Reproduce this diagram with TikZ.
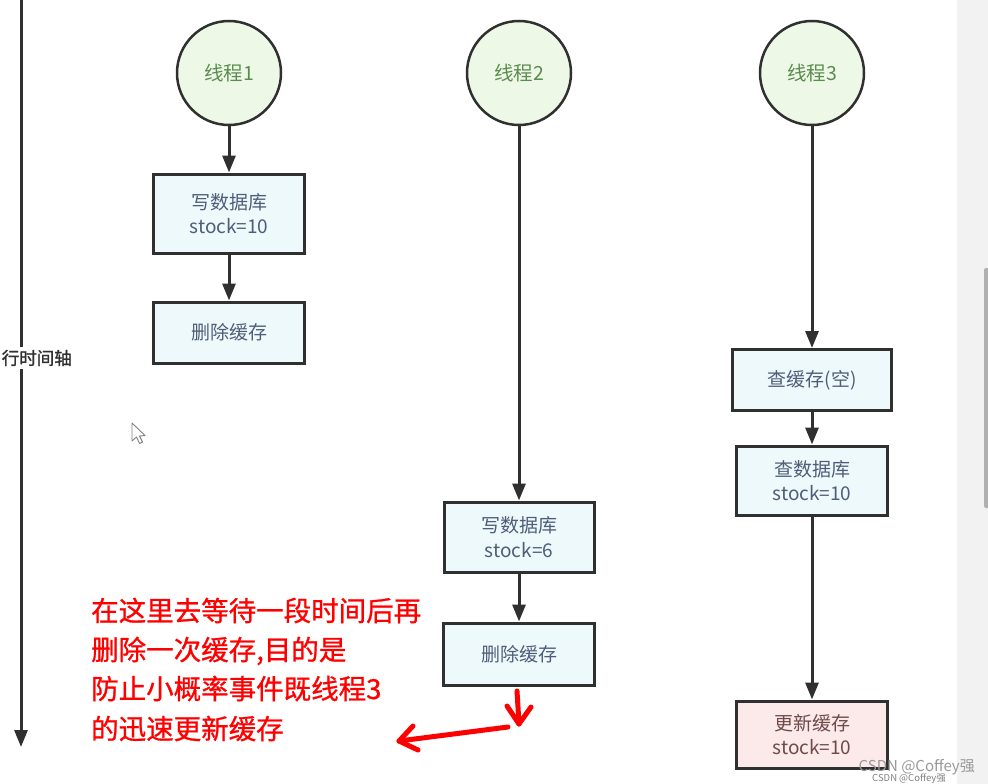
\documentclass[tikz,border=0pt]{standalone}
\usepackage{fontspec}
\setmainfont{Noto Sans CJK SC}
\newfontfamily\cjkb[FakeBold=1.4]{Noto Sans CJK SC}
\newfontfamily\cjkm[FakeBold=0.9]{Noto Sans CJK SC}
\usetikzlibrary{arrows.meta}
\definecolor{ln}{HTML}{303030}
\definecolor{circfill}{HTML}{EDF9E6}
\definecolor{circtxt}{HTML}{5B8C4F}
\definecolor{boxfill}{HTML}{EEF9FC}
\definecolor{boxtxt}{HTML}{4F5D78}
\definecolor{pinkfill}{HTML}{FCEAEA}
\definecolor{pinktxt}{HTML}{6E4A4A}
\definecolor{strip}{HTML}{F2F2F2}
\definecolor{thumb}{HTML}{B0B0B0}
\definecolor{redc}{HTML}{FF0000}
\begin{document}
\begin{tikzpicture}[x=1pt,y=-1pt,
  thread/.style={circle,draw=ln,line width=2.5pt,fill=circfill,minimum size=104pt,inner sep=0pt,
    text=circtxt,font=\fontsize{19.5}{22}\selectfont},
  stepbox/.style={rectangle,draw=ln,line width=3pt,fill=boxfill,inner sep=0pt,
    text=boxtxt,align=center,font=\fontsize{19}{24.5}\selectfont},
  conn/.style={draw=ln,line width=3pt,-{Triangle[width=13pt,length=17pt]}},
  redtxt/.style={anchor=base west,inner sep=0pt,text=redc,font=\cjkm\fontsize{27.5}{30}\selectfont},
  redarrow/.style={draw=redc,line width=5pt,line cap=round,line join=round},
]
\useasboundingbox (0,0) rectangle (988,784);
\clip (0,0) rectangle (988,784);
\fill[white] (0,0) rectangle (957,784);
\fill[strip] (957,0) rectangle (988,784);
\fill[thumb,rounded corners=2pt] (984,268) rectangle (990,508);

% time axis
\coordinate (ax0) at (21,-5);
\coordinate (ax1) at (21,747);
\draw[conn] (ax0) -- (ax1);
\node[anchor=east,fill=white,inner xsep=1pt,inner ysep=3pt,text=ln,font=\cjkb\fontsize{17.5}{20}\selectfont] (axlabel) at (73,358) {行时间轴};

% thread 1
\node[thread] (c1) at (229,73) {线程1};
\node[stepbox,minimum width=151pt,minimum height=79pt] (b11) at (229,213.5) {写数据库\\stock=10};
\node[stepbox,minimum width=151pt,minimum height=61pt] (b12) at (229,332.5) {删除缓存};
\draw[conn] (c1) -- (b11);
\draw[conn] (b11) -- (b12);

% thread 2
\node[thread] (c2) at (519,73) {线程2};
\node[stepbox,minimum width=150pt,minimum height=70pt] (b21) at (519,537) {写数据库\\stock=6};
\node[stepbox,minimum width=151pt,minimum height=62pt] (b22) at (519,654) {删除缓存};
\draw[conn] (c2) -- (b21);
\draw[conn] (b21) -- (b22);

% thread 3
\node[thread] (c3) at (812,73) {线程3};
\node[stepbox,minimum width=159pt,minimum height=61pt] (b31) at (812,380) {查缓存(空)};
\node[stepbox,minimum width=151pt,minimum height=69pt] (b32) at (812,480.5) {查数据库\\stock=10};
\node[stepbox,fill=pinkfill,text=pinktxt,minimum width=151pt,minimum height=67pt] (b33) at (812,734.5) {更新缓存\\stock=10};
\draw[conn] (c3) -- (b31);
\draw[conn] (b31) -- (b32);
\draw[conn] (b32) -- (b33);

% red annotation
\node[redtxt] (t1) at (91,621) {在这里去等待一段时间后再};
\node[redtxt] (t2) at (91,660) {删除一次缓存,目的是};
\node[redtxt] (t3) at (91,699) {防止小概率事件既线程3};
\node[redtxt] (t4) at (91,739) {的迅速更新缓存};

% red hand-drawn arrows
\coordinate (ra0) at (517,691);
\coordinate (ra1) at (519,724);
\coordinate (ra2) at (507,706);
\coordinate (ra3) at (531,707);
\draw[redarrow] (ra0) -- (ra1);
\draw[redarrow] (ra2) -- (ra1) -- (ra3);
\coordinate (rb0) at (508,727);
\coordinate (rb1) at (399,741);
\coordinate (rb2) at (413,726);
\coordinate (rb3) at (418,750);
\draw[redarrow] (rb0) -- (rb1);
\draw[redarrow] (rb2) -- (rb1) -- (rb3);

% mouse cursor
\draw[gray,line width=0.9pt,line join=round,fill=white] (132,423) -- (132,441) -- (136.5,437) -- (139.5,443.5) -- (142.5,442) -- (139.5,436) -- (145,435.5) -- cycle;

% watermark
\node[anchor=base east,inner sep=0pt,text=gray!80,font=\fontsize{15}{18}\selectfont] (wm1) at (975,771) {CSDN @Coffey强};
\node[anchor=base east,inner sep=0pt,text=gray,font=\fontsize{9.5}{11}\selectfont] (wm2) at (946,781) {CSDN @Coffey强};
\end{tikzpicture}
\end{document}
